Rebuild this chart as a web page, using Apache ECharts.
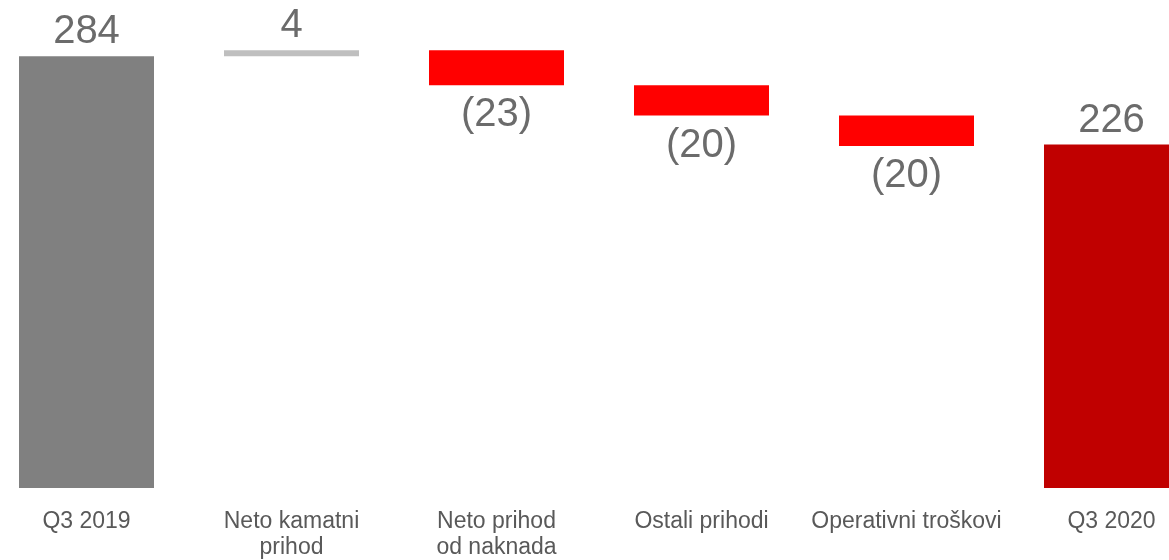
<!DOCTYPE html>
<html>
<head>
<meta charset="utf-8">
<script src="https://cdn.jsdelivr.net/npm/echarts@6/dist/echarts.min.js"></script>
<style>
  html, body { margin: 0; padding: 0; background: #fff; }
  #chart { width: 1169px; height: 560px; }
</style>
</head>
<body>
<div id="chart"></div>
<script>
// kategorije i vrijednosti (waterfall)
var categories = ['Q3 2019', 'Neto kamatni\nprihod', 'Neto prihod\nod naknada', 'Ostali prihodi', 'Operativni troškovi', 'Q3 2020']
var changes = [284, 4, -23, -20, -20, 226]
var isTotal = [true, false, false, false, false, true]
var valueLabels = ['284', '4', '(23)', '(20)', '(20)', '226']
var barColors = ['#808080', '#bfbfbf', '#ff0000', '#ff0000', '#ff0000', '#c00000']

// racunanje nevidljive baze i visine stupca
var base = []
var visible = []
var running = 0
for (var i = 0; i < changes.length; i++) {
  if (isTotal[i]) {
    base.push(0)
    visible.push(changes[i])
    running = changes[i]
  } else if (changes[i] >= 0) {
    base.push(running)
    visible.push(changes[i])
    running += changes[i]
  } else {
    running += changes[i]
    base.push(running)
    visible.push(-changes[i])
  }
}

var chart = echarts.init(document.getElementById('chart'))
chart.setOption({
  animation: false,
  grid: { left: -16, width: 1230, top: 32, bottom: 72, outerBoundsMode: 'none', containLabel: false },
  xAxis: {
    type: 'category',
    data: categories,
    axisLine: { show: false },
    axisTick: { show: false },
    axisLabel: {
      interval: 0,
      margin: 21,
      fontSize: 23,
      lineHeight: 26,
      color: '#595959',
      fontFamily: 'Liberation Sans, Arial, sans-serif'
    }
  },
  yAxis: { type: 'value', min: 0, max: 300, show: false },
  series: [
    {
      type: 'bar',
      stack: 'w',
      data: base,
      itemStyle: { color: 'transparent' },
      barWidth: 135,
      silent: true
    },
    {
      type: 'bar',
      stack: 'w',
      barWidth: 135,
      data: visible.map(function (v, i) {
        return {
          value: v,
          itemStyle: { color: barColors[i] },
          label: { position: changes[i] < 0 ? 'bottom' : 'top', distance: changes[i] < 0 ? 10 : 4 }
        }
      }),
      label: {
        show: true,
        fontSize: 40,
        color: '#6b6b6b',
        fontFamily: 'Liberation Sans, Arial, sans-serif',
        formatter: function (p) { return valueLabels[p.dataIndex] }
      }
    }
  ]
})
</script>
</body>
</html>
